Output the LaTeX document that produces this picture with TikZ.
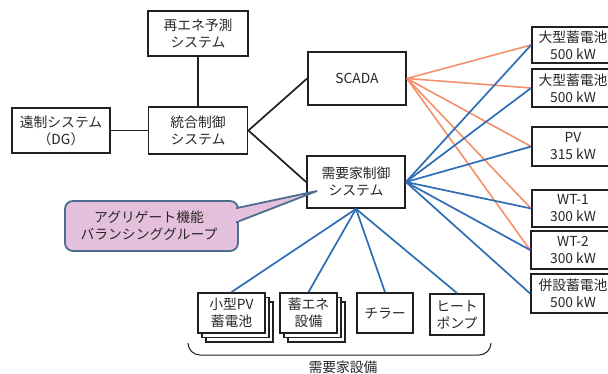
\documentclass[tikz,border=0pt]{standalone}
\usepackage{fontspec}
\setmainfont{Noto Sans CJK JP}
\definecolor{txt}{HTML}{2A2627}
\definecolor{boxc}{HTML}{231F20}
\definecolor{orangeln}{HTML}{F4916C}
\definecolor{blueln}{HTML}{2E6DB5}
\definecolor{calloutfill}{HTML}{E5C0DC}
\definecolor{calloutdraw}{HTML}{4E6C90}
\tikzset{
  box/.style={draw=boxc, line width=1.8pt, fill=white, inner sep=0pt, align=center,
    text=txt, font=\fontsize{13.8}{17}\selectfont},
  blk/.style={draw=boxc, line width=1.7pt},
  org/.style={draw=orangeln, line width=1.6pt},
  blu/.style={draw=blueln, line width=1.7pt},
  bracestyle/.style={draw=boxc, line width=1pt},
  calloutbox/.style={draw=calloutdraw, fill=calloutfill, line width=1.8pt},
  lbl/.style={text=txt, font=\fontsize{13.8}{17}\selectfont, align=center, inner sep=0pt}
}
\begin{document}
\begin{tikzpicture}[x=1pt,y=-1pt]
\useasboundingbox (0,0) rectangle (608,374);
\clip (0,0) rectangle (608,374);

% main boxes
\node[box, minimum width=100pt, minimum height=45pt] (yosoku) at (198,33.5) {再エネ予測\\システム};
\node[box, minimum width=98pt, minimum height=45pt] (dg) at (61,130.5) {遠制システム\\（DG）};
\node[box, minimum width=99pt, minimum height=47pt] (togo) at (198,130.5) {統合制御\\システム};
\node[box, minimum width=98pt, minimum height=53pt] (scada) at (357,78.5) {SCADA};
\node[box, minimum width=98pt, minimum height=52pt] (jukyo) at (356,182) {需要家制御\\システム};

% right boxes
\node[box, minimum width=82pt, minimum height=36pt] (bat1) at (573,45) {大型蓄電池\\500 kW};
\node[box, minimum width=82pt, minimum height=38pt] (bat2) at (573,88) {大型蓄電池\\500 kW};
\node[box, minimum width=82pt, minimum height=39pt] (pv) at (573,146.5) {PV\\315 kW};
\node[box, minimum width=82pt, minimum height=37pt] (wt1) at (573,208.5) {WT-1\\300 kW};
\node[box, minimum width=84pt, minimum height=38pt] (wt2) at (573,250) {WT-2\\300 kW};
\node[box, minimum width=84pt, minimum height=39pt] (heisetsu) at (573,293.5) {併設蓄電池\\500 kW};

% connectors black
\draw[blk] (yosoku.south) -- (yosoku.south |- togo.north);
\draw[blk] (dg.east) -- (togo.west);
\draw[blk] (togo.east) -- (scada.west);
\draw[blk] (togo.east) -- (jukyo.west);

% orange connectors
\foreach \t in {bat1,bat2,pv,wt1,wt2}
  \draw[org] (scada.east) -- (\t.west);
% blue connectors
\foreach \t in {bat1,bat2,pv,wt1,wt2,heisetsu}
  \draw[blu] (jukyo.east) -- (\t.west);

% bottom boxes (stacked)
\node[box, minimum width=67pt, minimum height=40pt] (shopvc) at (239.5,322) {};
\node[box, minimum width=67pt, minimum height=40pt] (shopvb) at (235.5,317.5) {};
\node[box, minimum width=67pt, minimum height=40pt] (shopv) at (231.5,313) {小型PV\\蓄電池};
\node[box, minimum width=57pt, minimum height=40pt] (chikuenec) at (316.5,322) {};
\node[box, minimum width=57pt, minimum height=40pt] (chikueneb) at (312.5,317.5) {};
\node[box, minimum width=57pt, minimum height=40pt] (chikuene) at (308.5,313) {蓄エネ\\設備};
\node[box, minimum width=56pt, minimum height=40pt] (chiller) at (385,313) {チラー};
\node[box, minimum width=54pt, minimum height=41pt] (heat) at (457,314.5) {ヒート\\ポンプ};

\foreach \t in {shopv,chikuene,chiller,heat}
  \draw[blu] (jukyo.south) -- (\t.north);

% brace
\coordinate (brL) at (188,343);
\coordinate (brR) at (491,343);
\draw[bracestyle] (brL) to[out=-90,in=180] (200,355) -- (479,355) to[out=0,in=-90] (brR);
\node[lbl] (setsubi) at (343,367) {需要家設備};

% callout
\coordinate (tip) at (317,191);
\draw[calloutbox, rounded corners=8pt] (65,201) rectangle (238,251);
\draw[calloutbox, line join=miter] (237,208) -- (tip) -- (237,222) -- cycle;
\fill[calloutfill] (234,209.3) rectangle (239.4,220.7);
\node[lbl] (aggr) at (149,225.5) {アグリゲート機能\\バランシンググループ};
\end{tikzpicture}
\end{document}
